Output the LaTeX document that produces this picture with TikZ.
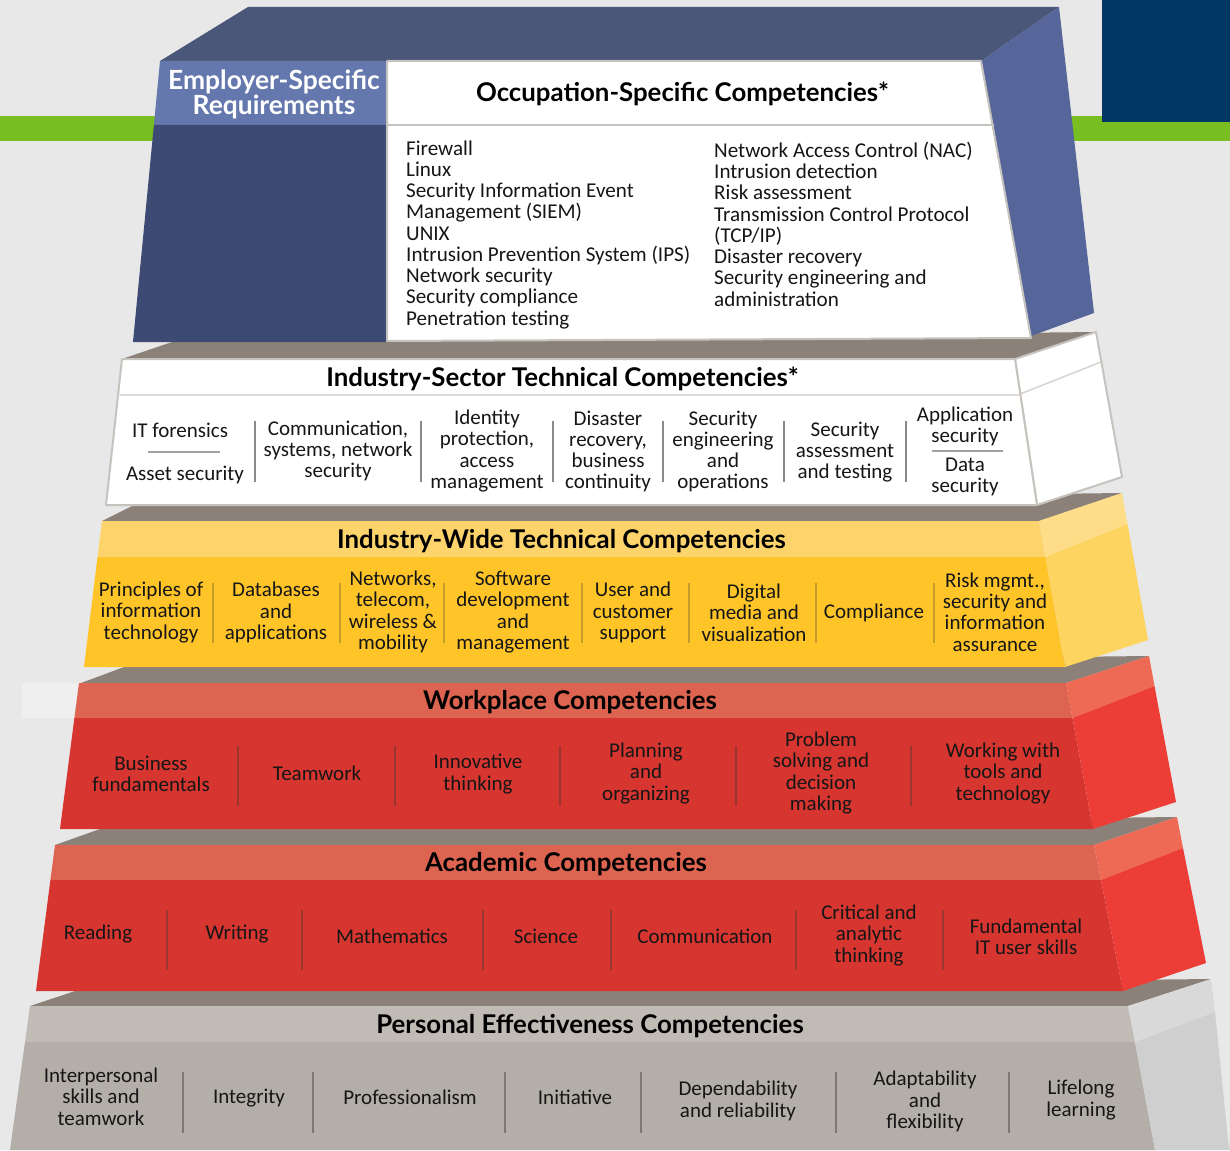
\documentclass[tikz,border=0pt]{standalone}
\usepackage{fontspec}
\setmainfont{Carlito}
\newfontfamily\headfont{Lato}
\definecolor{bgc}{HTML}{E8E8E8}
\definecolor{lime}{HTML}{78BE20}
\definecolor{navy}{HTML}{003764}
\definecolor{shelf}{HTML}{8C8179}
\definecolor{slatetop}{HTML}{4A5779}
\definecolor{slateside}{HTML}{57669A}
\definecolor{emphead}{HTML}{6478AE}
\definecolor{empbody}{HTML}{3D4A74}
\definecolor{rim}{HTML}{C6C2BD}
\definecolor{yelhead}{HTML}{FDD46C}
\definecolor{yelbody}{HTML}{FEC428}
\definecolor{yelsideA}{HTML}{FDDD88}
\definecolor{yelsideB}{HTML}{FDD45F}
\definecolor{yelsep}{HTML}{C79A2E}
\definecolor{redhead}{HTML}{DC6450}
\definecolor{redbody}{HTML}{D63530}
\definecolor{redsideA}{HTML}{EF6A54}
\definecolor{redsideB}{HTML}{EC3D36}
\definecolor{redsep}{HTML}{9C3431}
\definecolor{gryhead}{HTML}{C0BBB4}
\definecolor{grybody}{HTML}{B3AEA7}
\definecolor{grysideA}{HTML}{D9D9D9}
\definecolor{grysideB}{HTML}{CFCFCF}
\definecolor{grysep}{HTML}{7E7872}
\definecolor{whtsep}{HTML}{8A8A8A}
\definecolor{ink}{HTML}{161616}
\definecolor{patch}{HTML}{EFEFEF}
\begin{document}
\begin{tikzpicture}[x=1pt,y=-1pt,
  itm/.style={font=\fontsize{21}{21.3}\selectfont, align=center, inner sep=0pt, text=ink, yshift=-1.5pt},
  lst/.style={font=\fontsize{21.1}{21.25}\selectfont, align=left, inner sep=0pt, text=ink, anchor=west, yshift=-1.5pt},
  ttl/.style={font=\headfont\bfseries\fontsize{25.8}{28}\selectfont, inner sep=0pt, text=black, yshift=-2pt},
  sepline/.style={line width=1.2pt}]
\useasboundingbox (0,0) rectangle (1230,1150);
% backdrop, stripe and corner block
\fill[bgc] (0,0) rectangle (1230,1150);
\fill[lime] (0,116) rectangle (1230,141);
\fill[navy] (1102,0) rectangle (1230,122);

% ---------- Personal Effectiveness tier ----------
\fill[shelf] (30,1006) -- (75,991) -- (1211,979) -- (1128,1006) -- cycle;
\fill[gryhead] (30,1006) -- (1128,1006) -- (1135,1042) -- (25,1042) -- cycle;
\fill[grybody] (25,1042) -- (1135,1042) -- (1155,1150) -- (10,1150) -- cycle;
\fill[grysideA] (1128,1006) -- (1211,979) -- (1215,1012) -- (1135,1042) -- cycle;
\fill[grysideB] (1135,1042) -- (1215,1012) -- (1228,1140) -- (1230,1150) -- (1155,1150) -- cycle;
\node[ttl] (pe) at (590,1024) {Personal Effectiveness Competencies};
\foreach \x in {183,313,505,641,836,1009}
  \draw[sepline,grysep] (\x,1072) -- (\x,1133);
\node[itm] (pe1) at (101,1095) {Interpersonal\\skills and\\teamwork};
\node[itm] (pe2) at (249,1097) {Integrity};
\node[itm] (pe3) at (410,1096) {Professionalism};
\node[itm] (pe4) at (575,1096) {Initiative};
\node[itm] (pe5) at (738,1099.5) {Dependability\\and reliability};
\node[itm] (pe6) at (925,1100) {Adaptability\\and\\flexibility};
\node[itm] (pe7) at (1081,1098.5) {Lifelong\\learning};

% ---------- Academic tier ----------
\fill[shelf] (55,845) -- (100,829) -- (1177,817) -- (1094,845) -- cycle;
\fill[redhead] (55,845) -- (1094,845) -- (1101,880) -- (50.4,880) -- cycle;
\fill[redbody] (50.4,880) -- (1101,880) -- (1123,991) -- (36,991) -- cycle;
\fill[redsideA] (1094,845) -- (1177,817) -- (1183,848) -- (1101,880) -- cycle;
\fill[redsideB] (1101,880) -- (1183,848) -- (1206,963) -- (1123,991) -- cycle;
\node[ttl] (ac) at (566,862) {Academic Competencies};
\foreach \x in {167,302,483,611,796,943}
  \draw[sepline,redsep] (\x,910) -- (\x,970);
\node[itm] (ac1) at (98,933) {Reading};
\node[itm] (ac2) at (237,933) {Writing};
\node[itm] (ac3) at (392,935) {Mathematics};
\node[itm] (ac4) at (546,935) {Science};
\node[itm] (ac5) at (705,935) {Communication};
\node[itm] (ac6) at (869,934) {Critical and\\analytic\\thinking};
\node[itm] (ac7) at (1026,935.5) {Fundamental\\IT user skills};

% ---------- Workplace tier ----------
\fill[shelf] (81,683) -- (124,667) -- (1149,656) -- (1066,683) -- cycle;
\fill[patch] (22,683) -- (79,683) -- (74.4,718) -- (22,718) -- cycle;
\fill[redhead] (79,683) -- (1066,683) -- (1072.5,718) -- (74.4,718) -- cycle;
\fill[redbody] (74.4,718) -- (1072.5,718) -- (1093,829) -- (60,829) -- cycle;
\fill[redsideA] (1066,683) -- (1149,656) -- (1154.5,686) -- (1072.5,718) -- cycle;
\fill[redsideB] (1072.5,718) -- (1154.5,686) -- (1176,802) -- (1093,829) -- cycle;
\node[ttl] (wp) at (570,700) {Workplace Competencies};
\foreach \x in {238,395,560,736,911}
  \draw[sepline,redsep] (\x,746) -- (\x,806);
\node[itm] (wp1) at (151,772.5) {Business\\fundamentals};
\node[itm] (wp2) at (317,772) {Teamwork};
\node[itm] (wp3) at (478,772.5) {Innovative\\thinking};
\node[itm] (wp4) at (646,772) {Planning\\and\\organizing};
\node[itm] (wp5) at (821,771.5) {Problem\\solving and\\decision\\making};
\node[itm] (wp6) at (1003,772) {Working with\\tools and\\technology};

% ---------- Industry-Wide Technical tier ----------
\fill[shelf] (102,521) -- (134,505) -- (1122,493) -- (1039,521) -- cycle;
\fill[yelhead] (102,521) -- (1039,521) -- (1045.4,557) -- (97.5,557) -- cycle;
\fill[yelbody] (97.5,557) -- (1045.4,557) -- (1065,667) -- (84,667) -- cycle;
\fill[yelsideA] (1039,521) -- (1122,493) -- (1127.5,524) -- (1045.4,557) -- cycle;
\fill[yelsideB] (1045.4,557) -- (1127.5,524) -- (1148,640) -- (1065,667) -- cycle;
\node[ttl] (iw) at (561.5,539) {Industry-Wide Technical Competencies};
\foreach \x in {213,340,444,582,689,816,934}
  \draw[sepline,yelsep] (\x,583) -- (\x,643);
\node[itm] (iw1) at (151,611) {Principles of\\information\\technology};
\node[itm] (iw2) at (276,611) {Databases\\and\\applications};
\node[itm] (iw3) at (393,610.5) {Networks,\\telecom,\\wireless \&\\mobility};
\node[itm] (iw4) at (513,610.5) {Software\\development\\and\\management};
\node[itm] (iw5) at (633,611) {User and\\customer\\support};
\node[itm] (iw6) at (754,611) {Digital\\media and\\visualization};
\node[itm] (iw7) at (874,611) {Compliance};
\node[itm] (iw8) at (995,610.5) {Risk mgmt.,\\security and\\information\\assurance};

% ---------- Industry-Sector Technical tier ----------
\fill[shelf] (122,359) -- (172,342) -- (1096,332) -- (1015,359) -- cycle;
\filldraw[fill=white,draw=rim,line width=2pt,line join=round]
  (1015,359) -- (1096,332) -- (1122,477) -- (1037,505) -- cycle;
\draw[rim!70,line width=1.5pt] (1020,394) -- (1101,362);
\filldraw[fill=white,draw=rim,line width=2pt,line join=round]
  (122,359) -- (1015,359) -- (1037,505) -- (106,505) -- cycle;
\draw[rim!60,line width=1.5pt] (118,395) -- (1020.4,395);
\node[ttl] (is) at (562.5,377) {Industry-Sector Technical Competencies*};
\foreach \x in {255,421,553,663,784,906}
  \draw[sepline,whtsep] (\x,421) -- (\x,482);
\node[itm] (is1a) at (180,429) {IT forensics};
\draw[line width=1.2pt,whtsep!80] (148,452) -- (220,452);
\node[itm] (is1b) at (185,473) {Asset security};
\node[itm] (is2) at (338,449.5) {Communication,\\systems, network\\security};
\node[itm] (is3) at (487,449.5) {Identity\\protection,\\access\\management};
\node[itm] (is4) at (608,450) {Disaster\\recovery,\\business\\continuity};
\node[itm] (is5) at (723,450) {Security\\engineering\\and\\operations};
\node[itm] (is6) at (845,450.5) {Security\\assessment\\and testing};
\node[itm] (is7a) at (965,425) {Application\\security};
\draw[line width=1.2pt,whtsep!80] (932,451) -- (1003,451);
\node[itm] (is7b) at (965,475.5) {Data\\security};

% ---------- Occupation-Specific tier with employer block ----------
\fill[slatetop] (248,7) -- (1059,7) -- (981,61) -- (160,61) -- cycle;
\fill[slateside] (981,61) -- (1059,7) -- (1094,313) -- (1031,336) -- cycle;
\fill[emphead] (160,61) -- (387,61) -- (387,125) -- (153.9,125) -- cycle;
\fill[empbody] (153.9,125) -- (387,125) -- (387,342) -- (133,342) -- cycle;
\filldraw[fill=white,draw=rim,line width=2pt,line join=round]
  (387,61) -- (981,61) -- (1031,338) -- (387,341) -- cycle;
\draw[rim,line width=2pt] (387,125) -- (994,125);
\node[font=\headfont\bfseries\fontsize{26.4}{25}\selectfont, text=white, align=center, inner sep=0pt]
  (emp) at (274,94.5) {Employer-Specific\\Requirements};
\node[ttl] (oc) at (682.5,92) {Occupation-Specific Competencies*};
\node[lst] (ocL) at (406,233) {Firewall\\Linux\\Security Information Event\\Management (SIEM)\\UNIX\\Intrusion Prevention System (IPS)\\Network security\\Security compliance\\Penetration testing};
\node[lst] (ocR) at (714,222.5) {Network Access Control (NAC)\\Intrusion detection\\Risk assessment\\Transmission Control Protocol\\(TCP/IP)\\Disaster recovery\\Security engineering and\\administration};
\end{tikzpicture}
\end{document}
